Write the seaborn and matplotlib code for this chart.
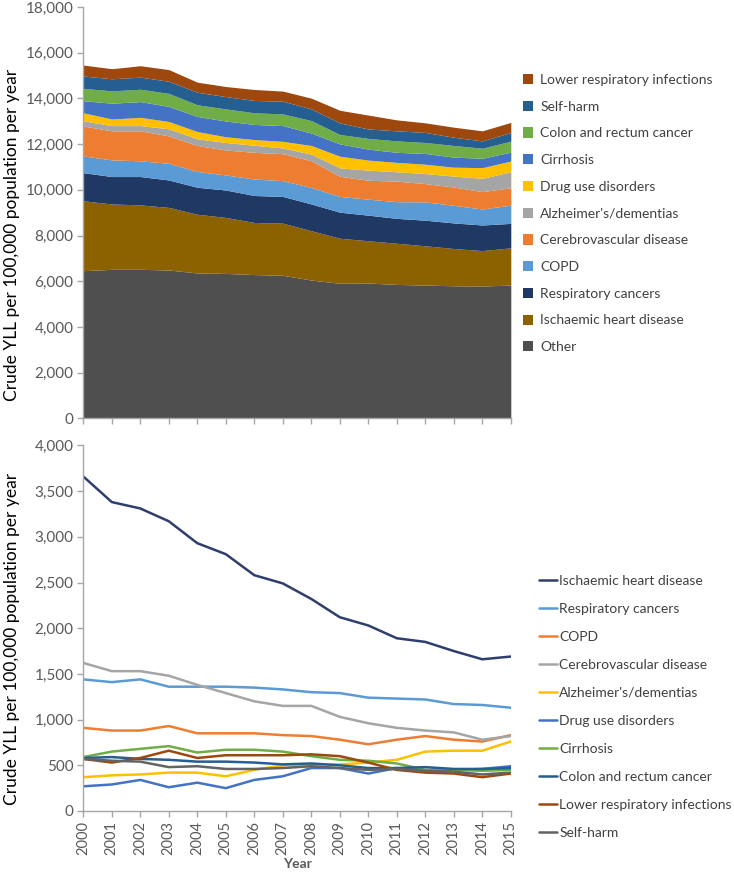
import numpy as np
import pandas as pd
import matplotlib
matplotlib.use("Agg")
import matplotlib.pyplot as plt
import seaborn as sns
from matplotlib.patches import Patch
from matplotlib.lines import Line2D
from matplotlib.ticker import FuncFormatter

years = list(range(2000, 2016))

# ---- Top panel: stacked layers (bottom to top) ----
stack_labels = ["Other", "Ischaemic heart disease", "Respiratory cancers", "COPD",
                "Cerebrovascular disease", "Alzheimer's/dementias", "Drug use disorders",
                "Cirrhosis", "Colon and rectum cancer", "Self-harm", "Lower respiratory infections"]
stack_other = [6460, 6520, 6520, 6490, 6360, 6340, 6290, 6260, 6050, 5910, 5920, 5860, 5830, 5800, 5790, 5830]
stack_ischaemic = [3060, 2860, 2820, 2740, 2570, 2450, 2280, 2280, 2160, 1970, 1850, 1800, 1720, 1630, 1550, 1630]
stack_resp = [1230, 1200, 1240, 1200, 1180, 1200, 1180, 1170, 1170, 1140, 1120, 1090, 1120, 1120, 1120, 1070]
stack_copd = [730, 730, 690, 730, 690, 660, 720, 690, 720, 690, 700, 730, 800, 770, 700, 800]
stack_cerebro = [1310, 1270, 1310, 1200, 1140, 1090, 1170, 1180, 1170, 880, 830, 900, 800, 800, 760, 760]
stack_alz = [230, 230, 230, 310, 290, 330, 310, 250, 290, 370, 440, 410, 440, 480, 580, 700]
stack_drug = [350, 290, 360, 320, 320, 250, 250, 290, 380, 510, 440, 410, 410, 390, 470, 470]
stack_cirr = [530, 690, 690, 660, 660, 690, 660, 690, 540, 540, 480, 440, 470, 440, 410, 390]
stack_colon = [540, 540, 540, 570, 510, 530, 510, 510, 550, 410, 470, 500, 480, 510, 440, 480]
stack_self = [540, 530, 530, 530, 550, 540, 540, 560, 510, 510, 410, 440, 440, 360, 320, 380]
stack_lri = [480, 440, 500, 510, 440, 440, 480, 440, 470, 550, 610, 480, 420, 440, 440, 440]
stack_colors = ["#4F4F4F", "#8C6100", "#1F3864", "#5B9BD5", "#ED7D31", "#A5A5A5",
                "#FFC000", "#4472C4", "#70AD47", "#255E91", "#9E480E"]

# ---- Bottom panel: lines ----
line_labels = ["Ischaemic heart disease", "Respiratory cancers", "COPD", "Cerebrovascular disease",
               "Alzheimer's/dementias", "Drug use disorders", "Cirrhosis", "Colon and rectum cancer",
               "Lower respiratory infections", "Self-harm"]
line_ischaemic = [3660, 3380, 3310, 3170, 2930, 2810, 2580, 2490, 2320, 2120, 2030, 1890, 1850, 1750, 1660, 1690]
line_resp = [1440, 1410, 1440, 1360, 1360, 1360, 1350, 1330, 1300, 1290, 1240, 1230, 1220, 1170, 1160, 1130]
line_copd = [910, 880, 880, 930, 850, 850, 850, 830, 820, 780, 730, 780, 820, 780, 760, 830]
line_cerebro = [1620, 1530, 1530, 1480, 1380, 1290, 1200, 1150, 1150, 1030, 960, 910, 880, 860, 780, 820]
line_alz = [370, 390, 400, 420, 420, 380, 450, 500, 510, 510, 530, 560, 650, 660, 660, 760]
line_drug = [270, 290, 340, 260, 310, 250, 340, 380, 470, 470, 410, 470, 440, 450, 460, 490]
line_cirr = [590, 650, 680, 710, 640, 670, 670, 650, 600, 560, 550, 520, 450, 450, 440, 450]
line_colon = [580, 590, 570, 560, 540, 540, 530, 510, 520, 500, 470, 470, 480, 460, 460, 470]
line_lri = [570, 530, 580, 660, 580, 610, 610, 610, 620, 600, 530, 450, 420, 410, 370, 410]
line_self = [570, 550, 540, 480, 490, 460, 460, 470, 490, 470, 450, 460, 440, 430, 400, 420]
line_colors = ["#2E3E6E", "#5B9BD5", "#ED7D31", "#A5A5A5", "#FFC000", "#4472C4",
               "#70AD47", "#255E91", "#9E480E", "#636363"]

sns.set_theme(style="white")
plt.rcParams['font.family'] = ['Lato', 'DejaVu Sans']

W, H = 734, 873
fig = plt.figure(figsize=(W / 100, H / 100), dpi=100)
ax1 = fig.add_axes([83.3 / W, 1 - 418.3 / H, 427.5 / W, 411.3 / H])
ax2 = fig.add_axes([83.3 / W, 1 - 811 / H, 427.5 / W, 365.6 / H])

axis_gray = "#A6A6A6"
tick_text = "#595959"
fmt = FuncFormatter(lambda v, p: f"{int(v):,}")

# Top stacked area
layers = [stack_other, stack_ischaemic, stack_resp, stack_copd, stack_cerebro, stack_alz,
          stack_drug, stack_cirr, stack_colon, stack_self, stack_lri]
ax1.stackplot(years, *layers, colors=stack_colors, linewidth=0)
ax1.set_xlim(2000, 2015)
ax1.set_ylim(0, 18000)
ax1.set_yticks(range(0, 18001, 2000))
ax1.yaxis.set_major_formatter(fmt)
ax1.set_xticks(years)
ax1.set_xticklabels([])

# Bottom line chart
line_series = [line_ischaemic, line_resp, line_copd, line_cerebro, line_alz, line_drug,
               line_cirr, line_colon, line_lri, line_self]
df = pd.DataFrame({
    "Year": np.tile(years, len(line_labels)),
    "Value": np.concatenate(line_series),
    "Cause": np.repeat(line_labels, len(years)),
})
sns.lineplot(data=df, x="Year", y="Value", hue="Cause", hue_order=line_labels,
             palette=dict(zip(line_labels, line_colors)), linewidth=1.8, ax=ax2, legend=False)
ax2.set_xlim(2000, 2015)
ax2.set_ylim(0, 4000)
ax2.set_yticks(range(0, 4001, 500))
ax2.yaxis.set_major_formatter(fmt)
ax2.set_xticks(years)

for ax in (ax1, ax2):
    for s in ("top", "right"):
        ax.spines[s].set_visible(False)
    for s in ("left", "bottom"):
        ax.spines[s].set_color(axis_gray)
        ax.spines[s].set_linewidth(1.0)
    ax.tick_params(axis="both", which="both", bottom=True, left=True, direction="out",
                   length=4, width=1.0, color=axis_gray, labelcolor=tick_text, labelsize=11, pad=3)
    ax.set_ylabel("Crude YLL per 100,000 population per year", fontsize=12.5, color="black")
    ax.grid(False)
ax1.set_xlabel("")
ax2.set_xticklabels([str(y) for y in years], rotation=90, fontsize=10.5)
ax2.set_xlabel("Year", fontweight="bold", fontsize=10, color=tick_text, labelpad=2)
ax1.yaxis.set_label_coords(-0.147, 0.446)
ax2.yaxis.set_label_coords(-0.147, 0.47)

# Top legend (reversed order, square patches)
phandles = [Patch(facecolor=c, edgecolor="none") for c in stack_colors][::-1]
plabels = stack_labels[::-1]
ax1.legend(phandles, plabels, loc="upper left", bbox_to_anchor=(516 / W, 1 - 67 / H),
           bbox_transform=fig.transFigure, frameon=False, fontsize=10,
           handlelength=0.75, handleheight=0.75, handletextpad=0.5, labelspacing=1.06,
           borderpad=0, labelcolor="#404040")

# Bottom legend (lines)
lhandles = [Line2D([0], [0], color=c, lw=1.8) for c in line_colors]
ax2.legend(lhandles, line_labels, loc="upper left", bbox_to_anchor=(532 / W, 1 - 568 / H),
           bbox_transform=fig.transFigure, frameon=False, fontsize=10,
           handlelength=1.3, handletextpad=0.15, labelspacing=1.15,
           borderpad=0, labelcolor="#404040")

fig.savefig("out.png", dpi=100)
